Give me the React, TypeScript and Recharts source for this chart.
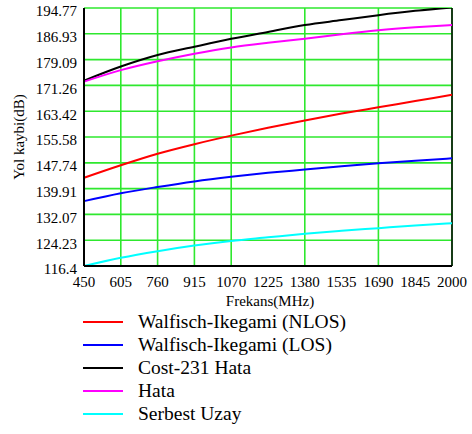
import React from "react";
import { LineChart, Line, XAxis, YAxis, CartesianGrid, ReferenceLine } from "recharts";

const FONT = '"Liberation Serif", Tinos, serif';

// values at each frequency tick
const frekans = [450, 605, 760, 915, 1070, 1225, 1380, 1535, 1690, 1845, 2000];
const wiNlos = [143.2, 147.0, 150.5, 153.4, 156.0, 158.4, 160.6, 162.7, 164.6, 166.5, 168.4];
const wiLos = [136.1, 138.5, 140.4, 142.1, 143.5, 144.7, 145.7, 146.7, 147.6, 148.4, 149.1];
const cost231 = [172.7, 177.0, 180.5, 183.0, 185.4, 187.5, 189.6, 191.1, 192.6, 193.9, 194.95];
const hata = [172.4, 175.9, 178.6, 180.9, 182.8, 184.2, 185.4, 186.8, 188.0, 188.9, 189.6];
const serbestUzay = [116.4, 118.9, 120.9, 122.6, 124.0, 125.1, 126.2, 127.1, 127.9, 128.7, 129.4];

const yTicks = [116.4, 124.23, 132.07, 139.91, 147.74, 155.58, 163.42, 171.26, 179.09, 186.93, 194.77];

const series = [
  { key: "nlos", name: "Walfisch-Ikegami (NLOS)", color: "#ff0000", values: wiNlos },
  { key: "los", name: "Walfisch-Ikegami (LOS)", color: "#0000ff", values: wiLos },
  { key: "cost", name: "Cost-231 Hata", color: "#000000", values: cost231 },
  { key: "hata", name: "Hata", color: "#ff00ff", values: hata },
  { key: "fs", name: "Serbest Uzay", color: "#00ffff", values: serbestUzay },
];

const data = frekans.map((f, i) => {
  const row: Record<string, number> = { f };
  series.forEach((s) => (row[s.key] = s.values[i]));
  return row;
});

const tickStyle = { fill: "#000", fontSize: 15, fontFamily: FONT };

export default function App() {
  return (
    <div style={{ position: "absolute", left: 0, top: 0, width: 472, height: 434, background: "#fff", fontFamily: FONT }}>
      <LineChart width={472} height={434} data={data} margin={{ top: 8, right: 20, bottom: 139, left: 0 }}>
        <CartesianGrid stroke="#2ee82e" strokeWidth={1.6} />
        <XAxis
          dataKey="f"
          type="number"
          domain={[450, 2000]}
          ticks={frekans}
          tick={tickStyle}
          tickLine={false}
          tickSize={6}
          tickMargin={4}
          height={29}
          axisLine={{ stroke: "#000", strokeWidth: 2 }}
          label={{ value: "Frekans(MHz)", position: "bottom", offset: 0, dx: 2, fill: "#000", fontSize: 15, fontFamily: FONT }}
        />
        <YAxis
          type="number"
          domain={[116.4, 194.77]}
          ticks={yTicks}
          allowDataOverflow
          interval={0}
          tick={{ ...tickStyle, dy: 3 }}
          tickLine={false}
          tickSize={4}
          tickMargin={3}
          width={84}
          axisLine={{ stroke: "#000", strokeWidth: 2 }}
          label={{ value: "Yol kaybi(dB)", angle: -90, position: "center", dx: -23, fill: "#000", fontSize: 15, fontFamily: FONT }}
        />
        <ReferenceLine x={2000} stroke="#000" strokeWidth={1.5} />
        {series.map((s) => (
          <Line
            key={s.key}
            dataKey={s.key}
            name={s.name}
            stroke={s.color}
            strokeWidth={2}
            type="monotone"
            dot={false}
            isAnimationActive={false}
          />
        ))}
      </LineChart>
      <div style={{ position: "absolute", left: 83, top: 310, fontSize: 19.5, color: "#000" }}>
        {series.map((s) => (
          <div key={s.key} style={{ display: "flex", alignItems: "center", height: 23 }}>
            <span style={{ display: "inline-block", width: 40, height: 2, background: s.color, marginRight: 15 }} />
            <span style={{ lineHeight: "23px" }}>{s.name}</span>
          </div>
        ))}
      </div>
    </div>
  );
}
